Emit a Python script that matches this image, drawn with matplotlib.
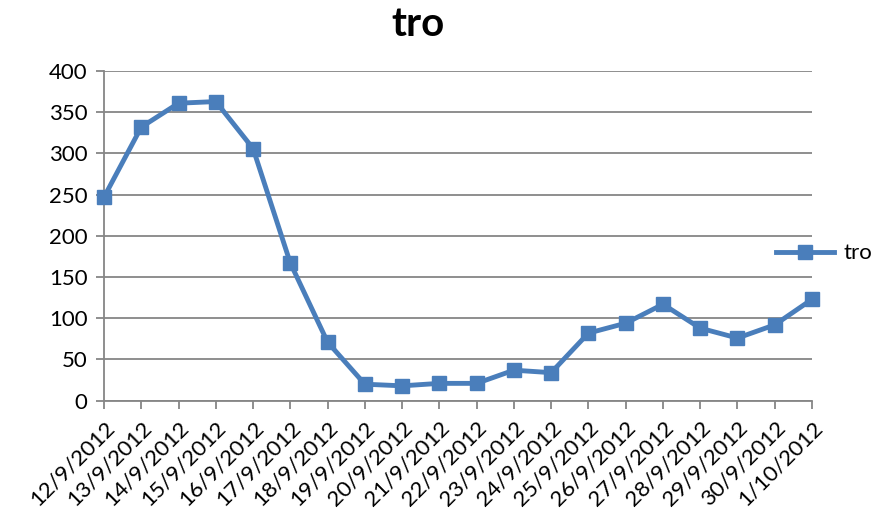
import matplotlib.pyplot as plt

plt.rcParams['font.family'] = ['Lato', 'DejaVu Sans']

dates = ['12/9/2012', '13/9/2012', '14/9/2012', '15/9/2012', '16/9/2012',
         '17/9/2012', '18/9/2012', '19/9/2012', '20/9/2012', '21/9/2012',
         '22/9/2012', '23/9/2012', '24/9/2012', '25/9/2012', '26/9/2012',
         '27/9/2012', '28/9/2012', '29/9/2012', '30/9/2012', '1/10/2012']
tro = [247, 332, 361, 363, 306, 167, 71, 20, 18, 21,
       21, 37, 34, 82, 94, 117, 88, 76, 92, 123]
yticks = [0, 50, 100, 150, 200, 250, 300, 350, 400]

grey = '#868686'
blue = '#4A7EBB'

fig = plt.figure(figsize=(8.83, 5.15), dpi=100)
ax = fig.add_axes([0.1178, 0.222, 0.8018, 0.640])

x = list(range(len(dates)))
ax.plot(x, tro, color=blue, linewidth=3.5, marker='s', markersize=10.5,
        label='tro', solid_joinstyle='round', clip_on=False, zorder=5)

ax.set_xlim(0, len(dates) - 1)
ax.set_ylim(0, 400)
ax.set_yticks(yticks)
ax.set_xticks(x)
ax.set_xticklabels(dates, rotation=45, ha='right', rotation_mode='anchor',
                   fontsize=16)

ax.grid(axis='y', color=grey, linewidth=1.3)
ax.set_axisbelow(True)
for side in ['top', 'right']:
    ax.spines[side].set_visible(False)
for side in ['left', 'bottom']:
    ax.spines[side].set_color(grey)
    ax.spines[side].set_linewidth(1.3)
ax.tick_params(axis='both', colors=grey, labelcolor='black', length=6,
               width=1.3)
ax.tick_params(axis='y', labelsize=16, pad=6)
ax.tick_params(axis='x', pad=6)

fig.text(0.473, 0.953, 'tro', fontsize=29, fontweight='bold',
         ha='center', va='center')

fig.legend(loc='center left', bbox_to_anchor=(0.879, 0.508), frameon=False,
           fontsize=16, handlelength=2.6, handletextpad=0.45,
           borderpad=0, borderaxespad=0)

fig.savefig('out.png', dpi=100)
